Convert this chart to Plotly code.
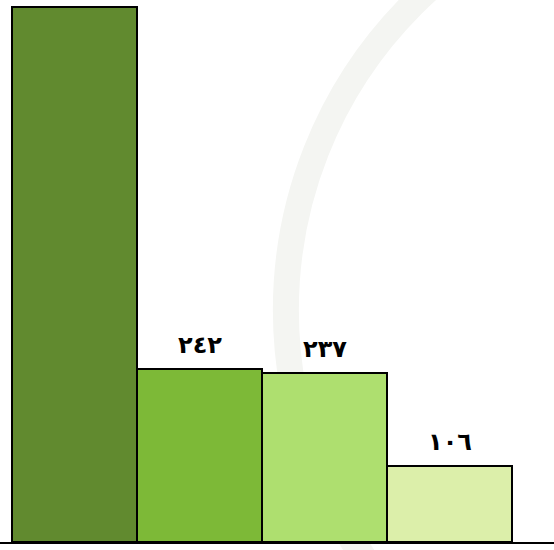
import plotly.graph_objects as go

categories = ["A", "B", "C", "D"]
values = [750, 242, 237, 106]
labels = ["٧٥٠", "٢٤٢", "٢٣٧", "١٠٦"]
colors = ["#618A2F", "#7DB937", "#AEDF6F", "#DCEFAA"]

fig = go.Figure()
fig.add_trace(go.Bar(
    x=list(range(len(categories))), y=values,
    marker=dict(color=colors, line=dict(color="black", width=2)),
    hoverinfo="skip",
))
# the first bar's label lies above the visible area in the reference, so only
# the labels of the other bars are drawn
for i in range(1, len(values)):
    fig.add_annotation(x=i, y=values[i], text="<b>" + labels[i] + "</b>", showarrow=False,
                       yanchor="bottom", yshift=8,
                       font=dict(family="DejaVu Sans", size=24, color="black"))

# faint watermark arc
fig.add_shape(type="circle", xref="paper", yref="paper",
              x0=0.516, x1=2.076, y0=-0.369, y1=1.225,
              line=dict(color="#f4f5f2", width=26), layer="below")

fig.update_layout(
    width=554, height=550,
    margin=dict(l=0, r=0, t=0, b=8),
    paper_bgcolor="white", plot_bgcolor="white",
    bargap=0, showlegend=False,
    xaxis=dict(range=[-0.596, 3.836], showticklabels=False, showgrid=False,
               zeroline=False, showline=True, linecolor="black", linewidth=2, ticks=""),
    yaxis=dict(range=[0, 760], visible=False, showgrid=False, zeroline=False),
)
fig.write_html("out.html", config={"displayModeBar": False},
               post_script="document.body.style.margin='0';")
